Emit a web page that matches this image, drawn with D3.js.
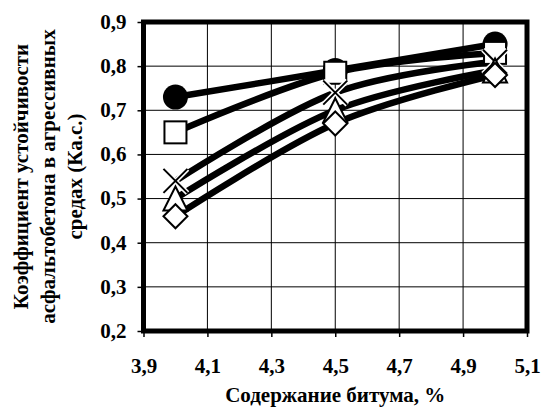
<!DOCTYPE html>
<html>
<head>
<meta charset="utf-8">
<script src="https://cdn.jsdelivr.net/npm/d3@7"></script>
<style>
  body { margin: 0; background: #fff; }
  svg text { font-family: "Liberation Serif", "Times New Roman", Times, serif; font-weight: bold; fill: #000; }
</style>
</head>
<body>
<div class="chart"></div>
<script>
// Data
const xValues = [4.0, 4.5, 5.0];
const seriesCircle = [0.73, 0.79, 0.85];
const seriesSquare = [0.65, 0.785, 0.83];
const seriesCross = [0.54, 0.74, 0.81];
const seriesTriangle = [0.50, 0.70, 0.79];
const seriesDiamond = [0.46, 0.67, 0.78];
const xTicks = [3.9, 4.1, 4.3, 4.5, 4.7, 4.9, 5.1];
const yTicks = [0.2, 0.3, 0.4, 0.5, 0.6, 0.7, 0.8, 0.9];
const yTitleLines = ['Коэффициент устойчивости', 'асфальтобетона в агрессивных', 'средах (Ка.с.)'];
const xTitle = 'Содержание битума, %';

const series = [
    {name:'circle', values:seriesCircle},
    {name:'square', values:seriesSquare},
    {name:'cross', values:seriesCross},
    {name:'triangle', values:seriesTriangle},
    {name:'diamond', values:seriesDiamond}
];

// 0.9 -> "0,9"
const fmt = d => d3.format('.1f')(d).replace('.', ',');

function draw(){
    const width = 542, height = 407;
    const plot = {left:143.5, right:527, top:22, bottom:331};

    const svg = d3.select('.chart').append('svg')
        .attr('width', width).attr('height', height);

    const xScale = d3.scaleLinear().domain([3.9, 5.1]).range([plot.left, plot.right]);
    const yScale = d3.scaleLinear().domain([0.2, 0.9]).range([plot.bottom, plot.top]);

    // grid
    const grid = svg.append('g').attr('class','grid');
    grid.selectAll('.gx').data(xTicks).enter().append('line')
        .attr('x1', d=>xScale(d)).attr('x2', d=>xScale(d))
        .attr('y1', plot.top).attr('y2', plot.bottom)
        .style('stroke','#000').style('stroke-width',1);
    grid.selectAll('.gy').data(yTicks).enter().append('line')
        .attr('x1', plot.left).attr('x2', plot.right)
        .attr('y1', d=>yScale(d)).attr('y2', d=>yScale(d))
        .style('stroke','#000').style('stroke-width',1);

    // axes (ticks + labels)
    const xAxis = d3.axisBottom(xScale).tickValues(xTicks).tickFormat(fmt).tickSize(6).tickPadding(21);
    const xAxisDraw = svg.append('g').attr('transform', `translate(0,${plot.bottom})`).call(xAxis);
    const yAxis = d3.axisLeft(yScale).tickValues(yTicks).tickFormat(fmt).tickSize(6).tickPadding(11);
    const yAxisDraw = svg.append('g').attr('transform', `translate(${plot.left},0)`).call(yAxis);
    [xAxisDraw, yAxisDraw].forEach(a=>{
        a.attr('font-family', '"Liberation Serif", serif').attr('font-size', 21);
        a.select('.domain').remove();
        a.selectAll('.tick line').style('stroke','#000').style('stroke-width',1.5);
        a.selectAll('.tick text')
            .style('font-family','"Liberation Serif", serif')
            .style('font-weight','bold')
            .style('font-size','21px');
    });
    yAxisDraw.selectAll('.tick text').attr('dy','0.3em');

    // lines (smoothed)
    const lineGen = d3.line()
        .x((d,i)=>xScale(xValues[i]))
        .y(d=>yScale(d))
        .curve(d3.curveCatmullRom.alpha(0));
    svg.append('g').selectAll('.line-series').data(series).enter()
        .append('path')
        .attr('d', d=>lineGen(d.values))
        .style('fill','none').style('stroke','#000').style('stroke-width',6.5);

    // markers
    const m = 12;
    const markers = svg.append('g');
    series.forEach(s=>{
        s.values.forEach((v,i)=>{
            const cx = xScale(xValues[i]), cy = yScale(v);
            const g = markers.append('g').attr('transform', `translate(${cx},${cy})`);
            if(s.name==='circle'){
                g.append('circle').attr('r', m+0.5).style('fill','#000');
            } else if(s.name==='square'){
                g.append('rect').attr('x',-m+1).attr('y',-m+1).attr('width',2*m-2).attr('height',2*m-2)
                    .style('fill','#fff').style('stroke','#000').style('stroke-width',2);
            } else if(s.name==='cross'){
                g.append('path').attr('d', `M${-m},${-m}L${m},${m}M${-m},${m}L${m},${-m}`)
                    .style('stroke','#fff').style('stroke-width',5);
                g.append('path').attr('d', `M${-m},${-m}L${m},${m}M${-m},${m}L${m},${-m}`)
                    .style('stroke','#000').style('stroke-width',2);
            } else if(s.name==='triangle'){
                g.append('path').attr('d', `M0,${-m}L${m},${m}L${-m},${m}Z`)
                    .style('fill','#fff').style('stroke','#000').style('stroke-width',2);
            } else {
                g.append('path').attr('d', `M0,${-m}L${m},0L0,${m}L${-m},0Z`)
                    .style('fill','#fff').style('stroke','#000').style('stroke-width',2);
            }
        });
    });

    // frame
    svg.append('rect')
        .attr('x', plot.left).attr('y', plot.top)
        .attr('width', plot.right-plot.left).attr('height', plot.bottom-plot.top)
        .style('fill','none').style('stroke','#000').style('stroke-width',5);

    // x title
    svg.append('text')
        .attr('x', (plot.left+plot.right)/2).attr('y', 402)
        .attr('text-anchor','middle')
        .style('font-size','21px')
        .text(xTitle);

    // y title (rotated, 3 lines)
    const yTitle = svg.append('text')
        .attr('transform', `translate(0,${(plot.top+plot.bottom)/2}) rotate(-90)`)
        .attr('text-anchor','middle')
        .style('font-size','21px');
    yTitle.selectAll('tspan').data(yTitleLines).enter().append('tspan')
        .attr('x', 0).attr('y', (d,i)=>28+i*27)
        .text(d=>d);
}

draw();
</script>
</body>
</html>
